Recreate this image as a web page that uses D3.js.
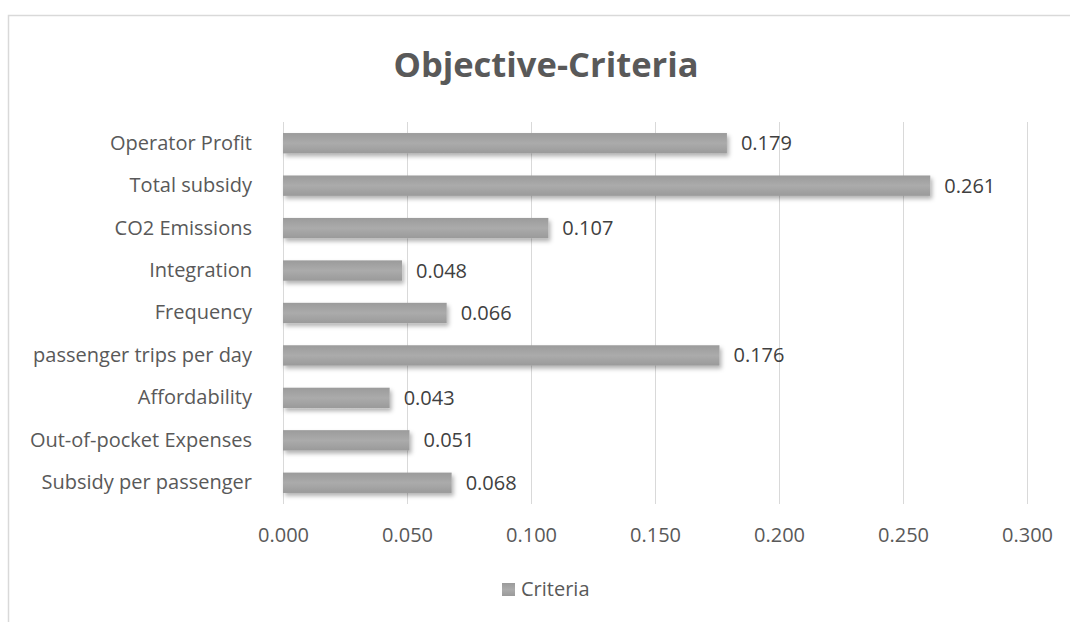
<!DOCTYPE html>
<html><head><meta charset="utf-8">
<script src="https://cdn.jsdelivr.net/npm/d3@7"></script>
<style>body{margin:0;background:#fff;}svg{display:block;font-family:"Open Sans","Noto Sans",sans-serif;}</style>
</head><body>
<script>
const categories = ["Operator Profit","Total subsidy","CO2 Emissions","Integration","Frequency","passenger trips per day","Affordability","Out-of-pocket Expenses","Subsidy per passenger"];
const values = [0.179,0.261,0.107,0.048,0.066,0.176,0.043,0.051,0.068];
const tickValues = [0,0.05,0.1,0.15,0.2,0.25,0.3];
const seriesName = "Criteria";
const title = "Objective-Criteria";

const W=1070,H=622;
const FF="'Open Sans','Noto Sans',sans-serif";
const svg=d3.select("body").append("svg").attr("width",W).attr("height",H);
const defs=svg.append("defs");
const g1=defs.append("linearGradient").attr("id","bg").attr("x1",0).attr("y1",0).attr("x2",0).attr("y2",1);
g1.append("stop").attr("offset","0%").attr("stop-color","#9b9b9b");
g1.append("stop").attr("offset","50%").attr("stop-color","#ababab");
g1.append("stop").attr("offset","100%").attr("stop-color","#9a9a9a");
const f=defs.append("filter").attr("id","sh").attr("x","-10%").attr("y","-50%").attr("width","130%").attr("height","220%");
f.append("feDropShadow").attr("dx",2).attr("dy",3).attr("stdDeviation",2.2).attr("flood-color","#000").attr("flood-opacity",0.3);

// chart border
svg.append("rect").attr("x",8.5).attr("y",15.5).attr("width",W).attr("height",H).attr("fill","none").attr("stroke","#d9d9d9").attr("stroke-width",1.5);

const x=d3.scaleLinear().domain([0,0.3]).range([283,1027]);
const y=d3.scaleBand().domain(categories).range([122,504]).paddingInner(0.52).paddingOuter(0.26);

svg.append("text").attr("x",546).attr("y",77).attr("text-anchor","middle").attr("font-size",34.5).attr("font-weight","bold").attr("fill","#595959").text(title);

// grid
svg.append("g").selectAll("line").data(tickValues).join("line")
 .attr("x1",d=>Math.round(x(d))+0.5).attr("x2",d=>Math.round(x(d))+0.5).attr("y1",122).attr("y2",504)
 .attr("stroke","#d9d9d9").attr("stroke-width",1);

// x axis
const xa=svg.append("g").attr("transform","translate(0,504)").call(d3.axisBottom(x).tickValues(tickValues).tickFormat(d3.format(".3f")).tickSize(0).tickPadding(0));
xa.select(".domain").remove();
xa.selectAll("text").attr("y",31).attr("dy","0.35em").attr("font-size",20).attr("fill","#595959").attr("font-family",FF);

// y axis
const ya=svg.append("g").attr("transform","translate(283,0)").call(d3.axisLeft(y).tickSize(0).tickPadding(31));
ya.select(".domain").remove();
ya.selectAll("text").attr("font-size",20).attr("fill","#595959").attr("font-family",FF);

// bars
svg.append("g").selectAll("rect").data(values).join("rect")
 .attr("x",x(0)).attr("y",(d,i)=>y(categories[i])).attr("width",d=>x(d)-x(0)).attr("height",y.bandwidth())
 .attr("fill","url(#bg)").attr("filter","url(#sh)");

// value labels
svg.append("g").selectAll("text").data(values).join("text")
 .attr("x",d=>x(d)+14).attr("y",(d,i)=>y(categories[i])+y.bandwidth()/2).attr("dy","0.35em")
 .attr("font-size",20).attr("fill","#404040").text(d=>d3.format(".3f")(d));

// legend
svg.append("rect").attr("x",502).attr("y",583).attr("width",13).attr("height",13).attr("fill","url(#bg)");
svg.append("text").attr("x",521).attr("y",589).attr("dy","0.35em").attr("font-size",20).attr("fill","#595959").text(seriesName);
</script>
</body></html>
